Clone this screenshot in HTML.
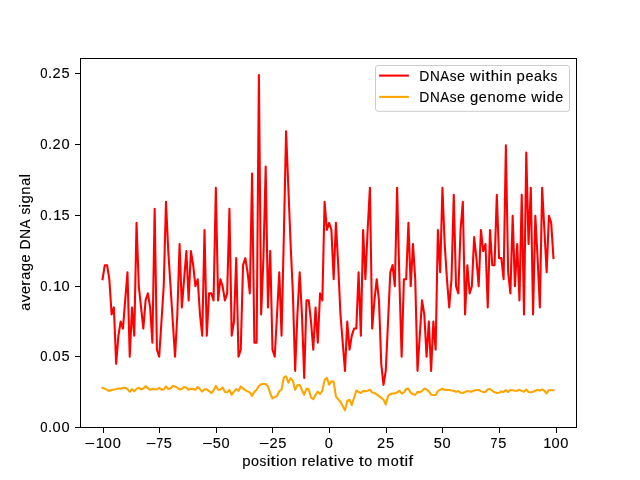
<!DOCTYPE html>
<html><head><meta charset="utf-8"><title>plot</title>
<style>
html,body{margin:0;padding:0;background:#fff;}
body{width:640px;height:480px;overflow:hidden;position:relative;font-family:"Liberation Sans",sans-serif;}
svg{position:absolute;left:0;top:0;will-change:transform;}
text{font-family:"Liberation Sans",sans-serif;font-size:14.30px;fill:#000;stroke:#000;stroke-width:0.12px;}
</style></head><body>
<svg width="640" height="480" viewBox="0 0 640 480">
<rect width="640" height="480" fill="#fff"/>
<clipPath id="c"><rect x="80" y="57.6" width="496" height="369.6"/></clipPath>
<g clip-path="url(#c)" fill="none" stroke-width="2.08" stroke-linejoin="round" stroke-linecap="square">
<path d="M102.55 279.26 L104.81 265.17 L107.08 265.17 L109.34 279.26 L111.61 314.48 L113.87 307.44 L116.14 363.80 L118.41 335.62 L120.67 321.53 L122.94 328.57 L125.20 300.39 L127.47 272.21 L129.74 356.75 L132.00 307.44 L134.27 335.62 L136.53 222.90 L138.80 286.30 L141.07 307.44 L143.33 328.57 L145.60 300.39 L147.86 293.35 L150.13 307.44 L152.39 342.66 L154.66 208.81 L156.93 349.71 L159.19 356.75 L161.46 321.53 L163.72 286.30 L165.99 201.77 L168.26 251.08 L170.52 286.30 L172.79 321.53 L175.05 356.75 L177.32 314.48 L179.59 244.04 L181.85 307.44 L184.12 279.26 L186.38 251.08 L188.65 300.39 L190.91 251.08 L193.18 265.17 L195.45 286.30 L197.71 279.26 L199.98 314.48 L202.24 335.62 L204.51 229.95 L206.78 335.62 L209.04 293.35 L211.31 293.35 L213.57 300.39 L215.84 187.68 L218.11 300.39 L220.37 279.26 L222.64 286.30 L224.90 300.39 L227.17 293.35 L229.43 208.81 L231.70 335.62 L233.97 321.53 L236.23 258.13 L238.50 356.75 L240.76 349.71 L243.03 265.17 L245.30 258.13 L247.56 272.21 L249.83 293.35 L252.09 173.59 L254.36 342.66 L256.62 342.66 L258.89 74.96 L261.16 314.48 L263.42 258.13 L265.69 166.54 L267.95 307.44 L270.22 251.08 L272.49 349.71 L274.75 356.75 L277.02 314.48 L279.28 272.21 L281.55 335.62 L283.82 236.99 L286.08 131.32 L288.35 187.68 L290.61 244.04 L292.88 293.35 L295.14 370.84 L297.41 314.48 L299.68 272.21 L301.94 314.48 L304.21 377.89 L306.47 300.39 L308.74 300.39 L311.01 321.53 L313.27 349.71 L315.54 307.44 L317.80 342.66 L320.07 293.35 L322.34 300.39 L324.60 201.77 L326.87 229.95 L329.13 222.90 L331.40 229.95 L333.66 279.26 L335.93 222.90 L338.20 265.17 L340.46 314.48 L342.73 342.66 L344.99 370.84 L347.26 321.53 L349.53 349.71 L351.79 335.62 L354.06 328.57 L356.32 328.57 L358.59 272.21 L360.86 335.62 L363.12 229.95 L365.39 279.26 L367.65 229.95 L369.92 187.68 L372.18 328.57 L374.45 300.39 L376.72 279.26 L378.98 300.39 L381.25 363.80 L383.51 384.93 L385.78 370.84 L388.05 321.53 L390.31 272.21 L392.58 265.17 L394.84 286.30 L397.11 187.68 L399.38 279.26 L401.64 356.75 L403.91 279.26 L406.17 279.26 L408.44 222.90 L410.70 286.30 L412.97 244.04 L415.24 279.26 L417.50 370.84 L419.77 335.62 L422.03 300.39 L424.30 314.48 L426.57 356.75 L428.83 321.53 L431.10 370.84 L433.36 321.53 L435.63 349.71 L437.89 229.95 L440.16 272.21 L442.43 187.68 L444.69 244.04 L446.96 279.26 L449.22 307.44 L451.49 279.26 L453.76 194.72 L456.02 286.30 L458.29 293.35 L460.55 229.95 L462.82 201.77 L465.09 314.48 L467.35 265.17 L469.62 293.35 L471.88 286.30 L474.15 236.99 L476.41 258.13 L478.68 286.30 L480.95 229.95 L483.21 251.08 L485.48 244.04 L487.74 307.44 L490.01 229.95 L492.28 265.17 L494.54 265.17 L496.81 194.72 L499.07 258.13 L501.34 258.13 L503.61 279.26 L505.87 145.41 L508.14 272.21 L510.40 293.35 L512.67 215.86 L514.93 286.30 L517.20 244.04 L519.47 300.39 L521.73 194.72 L524.00 314.48 L526.26 152.45 L528.53 244.04 L530.80 187.68 L533.06 314.48 L535.33 215.86 L537.59 258.13 L539.86 307.44 L542.13 187.68 L544.39 229.95 L546.66 272.21 L548.92 215.86 L551.19 222.90 L553.45 258.13" stroke="#ff0000"/>
<path d="M102.55 387.93 L104.81 388.68 L107.08 389.96 L109.34 390.95 L111.61 389.96 L113.87 389.53 L116.14 389.25 L118.41 388.40 L120.67 388.83 L122.94 387.84 L125.20 387.69 L127.47 389.11 L129.74 391.80 L132.00 389.11 L134.27 391.38 L136.53 388.83 L138.80 387.69 L141.07 389.53 L143.33 388.54 L145.60 386.14 L147.86 388.12 L150.13 389.82 L152.39 388.83 L154.66 389.25 L156.93 389.53 L159.19 387.84 L161.46 389.68 L163.72 389.39 L165.99 386.45 L168.26 388.97 L170.52 388.54 L172.79 386.07 L175.05 386.42 L177.32 387.98 L179.59 389.39 L181.85 388.97 L184.12 386.99 L186.38 387.69 L188.65 389.82 L190.91 388.68 L193.18 389.11 L195.45 389.82 L197.71 386.99 L199.98 389.11 L202.24 391.66 L204.51 389.25 L206.78 389.39 L209.04 391.09 L211.31 393.07 L213.57 390.53 L215.84 385.85 L218.11 389.82 L220.37 389.53 L222.64 387.41 L224.90 391.94 L227.17 392.34 L229.43 390.00 L231.70 394.69 L233.97 391.66 L236.23 389.07 L238.50 390.95 L240.76 386.43 L243.03 388.40 L245.30 390.28 L247.56 391.38 L249.83 392.34 L252.09 395.81 L254.36 391.87 L256.62 389.82 L258.89 386.07 L261.16 384.18 L263.42 383.90 L265.69 384.01 L267.95 386.42 L270.22 393.29 L272.49 398.46 L274.75 397.18 L277.02 395.76 L279.28 391.23 L281.55 389.75 L283.82 377.34 L286.08 376.22 L288.35 382.78 L290.61 378.09 L292.88 380.90 L295.14 389.82 L297.41 385.13 L299.68 384.93 L301.94 390.00 L304.21 394.69 L306.47 388.68 L308.74 389.35 L311.01 397.51 L313.27 399.19 L315.54 394.97 L317.80 391.69 L320.07 394.04 L322.34 390.57 L324.60 379.98 L326.87 377.81 L329.13 384.66 L331.40 381.38 L333.66 381.56 L335.93 396.56 L338.20 399.23 L340.46 401.71 L342.73 406.13 L344.99 410.35 L347.26 400.96 L349.53 399.74 L351.79 405.00 L354.06 397.69 L356.32 390.47 L358.59 392.07 L360.86 393.00 L363.12 390.94 L365.39 391.32 L367.65 390.75 L369.92 389.72 L372.18 392.54 L374.45 393.00 L376.72 394.41 L378.98 396.09 L381.25 397.89 L383.51 399.56 L385.78 404.53 L388.05 396.01 L390.31 394.12 L392.58 393.57 L394.84 393.36 L397.11 392.44 L399.38 390.75 L401.64 393.56 L403.91 392.44 L406.17 388.87 L408.44 388.87 L410.70 392.82 L412.97 394.22 L415.24 394.87 L417.50 391.87 L419.77 392.34 L422.03 390.94 L424.30 388.60 L426.57 389.53 L428.83 391.40 L431.10 394.69 L433.36 394.97 L435.63 394.97 L437.89 391.22 L440.16 389.82 L442.43 388.78 L444.69 390.00 L446.96 389.72 L449.22 390.00 L451.49 390.47 L453.76 390.75 L456.02 391.87 L458.29 391.12 L460.55 392.62 L462.82 393.00 L465.09 392.07 L467.35 390.94 L469.62 391.40 L471.88 391.69 L474.15 390.47 L476.41 390.00 L478.68 390.00 L480.95 391.12 L483.21 392.15 L485.48 391.87 L487.74 389.25 L490.01 389.07 L492.28 390.75 L494.54 392.34 L496.81 393.00 L499.07 392.82 L501.34 391.40 L503.61 391.87 L505.87 390.19 L508.14 392.11 L510.40 390.00 L512.67 390.28 L514.93 390.75 L517.20 390.75 L519.47 389.82 L521.73 390.94 L524.00 391.69 L526.26 389.53 L528.53 392.07 L530.80 392.34 L533.06 391.69 L535.33 390.75 L537.59 389.82 L539.86 390.65 L542.13 389.53 L544.39 390.75 L546.66 393.56 L548.92 390.00 L551.19 390.19 L553.45 390.19" stroke="#ffa500"/>
</g>
<g stroke="#000" stroke-width="1" shape-rendering="crispEdges">
<rect x="80.5" y="58.5" width="496" height="369" fill="none"/>
<line x1="103.5" y1="428" x2="103.5" y2="432.5"/>
<line x1="159.5" y1="428" x2="159.5" y2="432.5"/>
<line x1="216.5" y1="428" x2="216.5" y2="432.5"/>
<line x1="272.5" y1="428" x2="272.5" y2="432.5"/>
<line x1="329.5" y1="428" x2="329.5" y2="432.5"/>
<line x1="386.5" y1="428" x2="386.5" y2="432.5"/>
<line x1="442.5" y1="428" x2="442.5" y2="432.5"/>
<line x1="499.5" y1="428" x2="499.5" y2="432.5"/>
<line x1="556.5" y1="428" x2="556.5" y2="432.5"/>
<line x1="75" y1="427.5" x2="80" y2="427.5"/>
<line x1="75" y1="356.5" x2="80" y2="356.5"/>
<line x1="75" y1="286.5" x2="80" y2="286.5"/>
<line x1="75" y1="215.5" x2="80" y2="215.5"/>
<line x1="75" y1="144.5" x2="80" y2="144.5"/>
<line x1="75" y1="73.5" x2="80" y2="73.5"/>
</g>
<g transform="translate(102.58,448.10)"><rect x="-17.13" y="-5.10" width="8.69" height="1.05" fill="#000"/><text transform="translate(-6.85,0) scale(1.0221,1)">1</text><text transform="translate(1.28,0) scale(1.0221,1)">0</text><text transform="translate(10.12,0) scale(1.0221,1)">0</text></g>
<g transform="translate(158.82,448.10)"><rect x="-12.06" y="-5.10" width="8.69" height="1.05" fill="#000"/><text transform="translate(-2.53,0) scale(0.8717,1)">7</text><text transform="translate(5.05,0) scale(1.0221,1)">5</text></g>
<g transform="translate(215.87,448.10)"><rect x="-12.71" y="-5.10" width="8.69" height="1.05" fill="#000"/><text transform="translate(-3.13,0) scale(1.0221,1)">5</text><text transform="translate(5.70,0) scale(1.0221,1)">0</text></g>
<g transform="translate(272.52,448.10)"><rect x="-12.71" y="-5.10" width="8.69" height="1.05" fill="#000"/><text transform="translate(-3.13,0) scale(1.0221,1)">2</text><text transform="translate(5.70,0) scale(1.0221,1)">5</text></g>
<g transform="translate(328.93,448.10)"><text transform="translate(-4.06,0) scale(1.0221,1)">0</text></g>
<g transform="translate(385.58,448.10)"><text transform="translate(-8.48,0) scale(1.0221,1)">2</text><text transform="translate(0.35,0) scale(1.0221,1)">5</text></g>
<g transform="translate(442.23,448.10)"><text transform="translate(-8.48,0) scale(1.0221,1)">5</text><text transform="translate(0.35,0) scale(1.0221,1)">0</text></g>
<g transform="translate(498.47,448.10)"><text transform="translate(-7.88,0) scale(0.8717,1)">7</text><text transform="translate(-0.30,0) scale(1.0221,1)">5</text></g>
<g transform="translate(555.52,448.10)"><text transform="translate(-12.20,0) scale(1.0221,1)">1</text><text transform="translate(-4.06,0) scale(1.0221,1)">0</text><text transform="translate(4.77,0) scale(1.0221,1)">0</text></g>
<g transform="translate(69.90,432.20)"><text transform="translate(-29.70,0) scale(0.9180,1)">0</text><text transform="translate(-21.95,0) scale(1.0443,1)">.</text><text transform="translate(-17.31,0) scale(1.0221,1)">0</text><text transform="translate(-8.48,0) scale(1.0221,1)">0</text></g>
<g transform="translate(69.90,361.20)"><text transform="translate(-29.70,0) scale(0.9180,1)">0</text><text transform="translate(-21.95,0) scale(1.0443,1)">.</text><text transform="translate(-17.31,0) scale(1.0221,1)">0</text><text transform="translate(-8.48,0) scale(1.0221,1)">5</text></g>
<g transform="translate(69.90,291.20)"><text transform="translate(-29.70,0) scale(0.9180,1)">0</text><text transform="translate(-21.95,0) scale(1.0443,1)">.</text><text transform="translate(-16.61,0) scale(1.0221,1)">1</text><text transform="translate(-8.48,0) scale(1.0221,1)">0</text></g>
<g transform="translate(69.90,220.20)"><text transform="translate(-29.70,0) scale(0.9180,1)">0</text><text transform="translate(-21.95,0) scale(1.0443,1)">.</text><text transform="translate(-16.61,0) scale(1.0221,1)">1</text><text transform="translate(-8.48,0) scale(1.0221,1)">5</text></g>
<g transform="translate(69.90,149.20)"><text transform="translate(-29.70,0) scale(0.9180,1)">0</text><text transform="translate(-21.95,0) scale(1.0443,1)">.</text><text transform="translate(-17.31,0) scale(1.0221,1)">2</text><text transform="translate(-8.48,0) scale(1.0221,1)">0</text></g>
<g transform="translate(69.90,78.20)"><text transform="translate(-29.70,0) scale(0.9180,1)">0</text><text transform="translate(-21.95,0) scale(1.0443,1)">.</text><text transform="translate(-17.31,0) scale(1.0221,1)">2</text><text transform="translate(-8.48,0) scale(1.0221,1)">5</text></g>
<g transform="translate(327.60,466.40)"><text transform="translate(-85.31,0) scale(1.0427,1)">p</text><text transform="translate(-76.50,0) scale(1.0049,1)">o</text><text transform="translate(-68.03,0) scale(0.9513,1)">s</text><text transform="translate(-60.90,0) scale(1.1433,1)">i</text><text transform="translate(-56.99,0) scale(1.2874,1)">t</text><text transform="translate(-51.59,0) scale(1.1433,1)">i</text><text transform="translate(-47.59,0) scale(1.0049,1)">o</text><text transform="translate(-39.08,0) scale(1.0411,1)">n</text><text transform="translate(-25.95,0) scale(1.1268,1)">r</text><text transform="translate(-20.16,0) scale(1.0099,1)">e</text><text transform="translate(-11.76,0) scale(1.1433,1)">l</text><text transform="translate(-7.76,0) scale(1.0066,1)">a</text><text transform="translate(0.66,0) scale(1.2874,1)">t</text><text transform="translate(6.06,0) scale(1.1433,1)">i</text><text transform="translate(10.05,0) scale(1.0810,1)">v</text><text transform="translate(18.28,0) scale(1.0099,1)">e</text><text transform="translate(31.15,0) scale(1.2874,1)">t</text><text transform="translate(36.69,0) scale(1.0049,1)">o</text><text transform="translate(49.75,0) scale(1.0675,1)">m</text><text transform="translate(63.13,0) scale(1.0049,1)">o</text><text transform="translate(71.54,0) scale(1.2874,1)">t</text><text transform="translate(76.94,0) scale(1.1433,1)">i</text><text transform="translate(80.83,0) scale(1.1560,1)">f</text></g>
<g transform="translate(29.80,242.40) rotate(-90)"><text transform="translate(-68.43,0) scale(1.0066,1)">a</text><text transform="translate(-59.93,0) scale(1.0810,1)">v</text><text transform="translate(-51.70,0) scale(1.0099,1)">e</text><text transform="translate(-43.24,0) scale(1.1268,1)">r</text><text transform="translate(-37.45,0) scale(1.0066,1)">a</text><text transform="translate(-28.92,0) scale(1.0427,1)">g</text><text transform="translate(-20.11,0) scale(1.0099,1)">e</text><text transform="translate(-7.09,0) scale(0.9737,1)">D</text><text transform="translate(3.60,0) scale(0.9459,1)">N</text><text transform="translate(13.96,0) scale(0.9363,1)">A</text><text transform="translate(27.81,0) scale(0.9513,1)">s</text><text transform="translate(34.94,0) scale(1.1433,1)">i</text><text transform="translate(38.95,0) scale(1.0427,1)">g</text><text transform="translate(47.77,0) scale(1.0411,1)">n</text><text transform="translate(56.57,0) scale(1.0066,1)">a</text><text transform="translate(64.94,0) scale(1.1433,1)">l</text></g>
<rect x="375.5" y="65.5" width="194" height="45.8" rx="2.5" ry="2.5" fill="#fff" fill-opacity="0.8" stroke="#cccccc" stroke-width="1"/>
<line x1="379.1" y1="75.6" x2="408.9" y2="75.6" stroke="#ff0000" stroke-width="2.08"/>
<line x1="379.1" y1="96.9" x2="408.9" y2="96.9" stroke="#ffa500" stroke-width="2.08"/>
<g transform="translate(419.00,80.80)"><text transform="translate(0.32,0) scale(0.9737,1)">D</text><text transform="translate(11.01,0) scale(0.9459,1)">N</text><text transform="translate(21.37,0) scale(0.9363,1)">A</text><text transform="translate(30.80,0) scale(0.9513,1)">s</text><text transform="translate(38.08,0) scale(1.0099,1)">e</text><text transform="translate(51.12,0) scale(1.0344,1)">w</text><text transform="translate(62.26,0) scale(1.1433,1)">i</text><text transform="translate(66.16,0) scale(1.2874,1)">t</text><text transform="translate(71.71,0) scale(1.0411,1)">h</text><text transform="translate(80.37,0) scale(1.1433,1)">i</text><text transform="translate(84.38,0) scale(1.0411,1)">n</text><text transform="translate(97.60,0) scale(1.0427,1)">p</text><text transform="translate(106.41,0) scale(1.0099,1)">e</text><text transform="translate(114.95,0) scale(1.0066,1)">a</text><text transform="translate(123.45,0) scale(1.0572,1)">k</text><text transform="translate(131.47,0) scale(0.9513,1)">s</text></g>
<g transform="translate(419.00,101.90)"><text transform="translate(0.32,0) scale(0.9737,1)">D</text><text transform="translate(11.01,0) scale(0.9459,1)">N</text><text transform="translate(21.37,0) scale(0.9363,1)">A</text><text transform="translate(30.80,0) scale(0.9513,1)">s</text><text transform="translate(38.08,0) scale(1.0099,1)">e</text><text transform="translate(51.04,0) scale(1.0427,1)">g</text><text transform="translate(59.85,0) scale(1.0099,1)">e</text><text transform="translate(68.40,0) scale(1.0411,1)">n</text><text transform="translate(77.20,0) scale(1.0049,1)">o</text><text transform="translate(85.85,0) scale(1.0675,1)">m</text><text transform="translate(99.23,0) scale(1.0099,1)">e</text><text transform="translate(112.27,0) scale(1.0344,1)">w</text><text transform="translate(123.41,0) scale(1.1433,1)">i</text><text transform="translate(127.42,0) scale(1.0427,1)">d</text><text transform="translate(136.23,0) scale(1.0099,1)">e</text></g>
</svg></body></html>
